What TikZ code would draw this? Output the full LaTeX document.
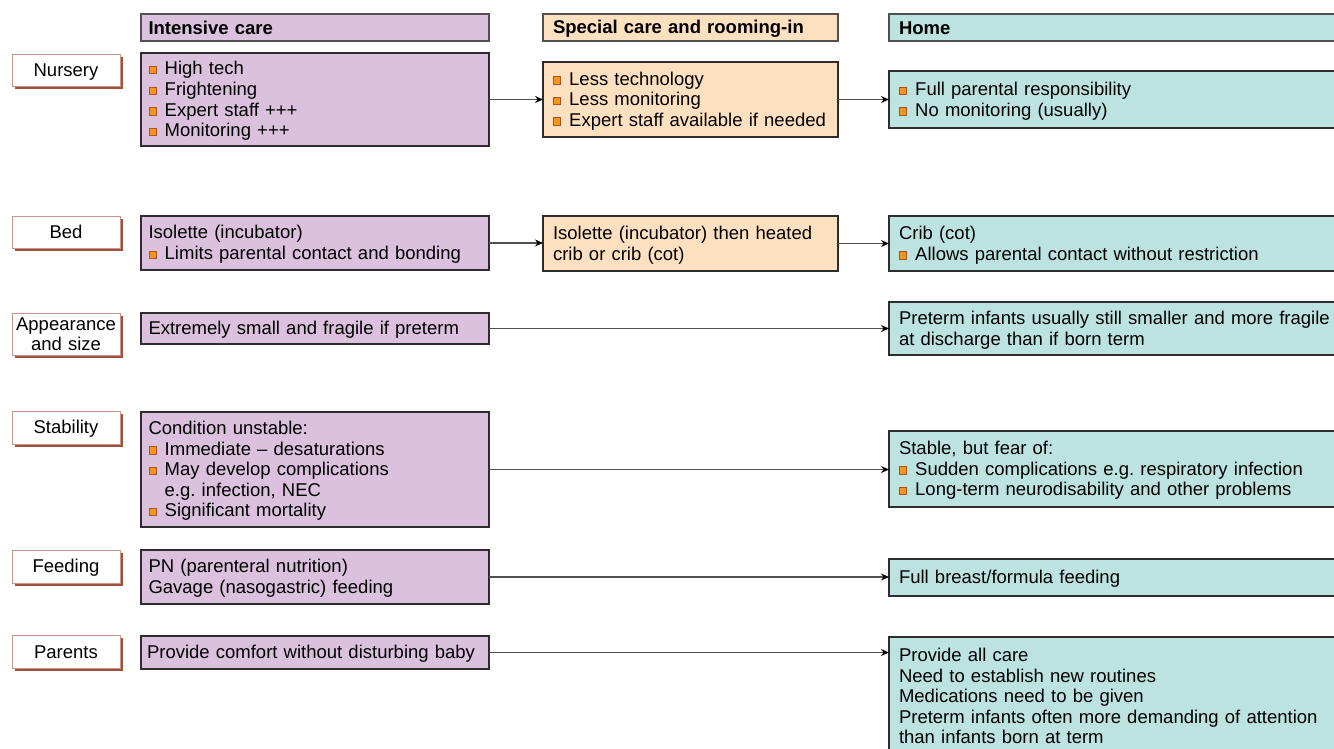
\documentclass[tikz,border=0pt]{standalone}
\usepackage{fontspec}
\setmainfont{Liberation Sans}
\usetikzlibrary{arrows.meta,shadows}
\frenchspacing
\definecolor{icfill}{RGB}{219,193,221}
\definecolor{scfill}{RGB}{253,224,191}
\definecolor{hmfill}{RGB}{189,227,224}
\definecolor{bordc}{RGB}{45,45,45}
\definecolor{hdbord}{RGB}{80,80,80}
\definecolor{labbord}{RGB}{200,150,135}
\definecolor{shadc}{RGB}{160,80,58}
\definecolor{bulfill}{RGB}{247,148,29}
\definecolor{bulbrd}{RGB}{170,85,40}
\definecolor{linec}{RGB}{80,80,80}
\newcommand\bul{{\setlength\fboxsep{0pt}\setlength\fboxrule{0.8pt}\raisebox{1.5pt}{\fcolorbox{bulbrd}{bulfill}{\rule{0pt}{6.6pt}\rule{6.6pt}{0pt}}}}\hspace{8pt}}
\newcommand\indt{\hspace*{16.2pt}}
\newcommand\bodyfont{\fontsize{18.5pt}{20.6pt}\selectfont}
\newcommand\mystrut{\rule[-3pt]{0pt}{19.25pt}}
\begin{document}
\begin{tikzpicture}[x=1pt,y=-1pt,
  base/.style={anchor=north west, outer sep=0pt, inner ysep=0pt, align=left,
    font=\bodyfont, text=black, line width=1.1pt,
    execute at begin node=\mystrut, execute at end node=\mystrut},
  icb/.style={base, draw=bordc, fill=icfill, minimum width=348pt, text width=333pt, inner xsep=7.5pt},
  scb/.style={base, draw=bordc, fill=scfill, minimum width=295pt, text width=275pt, inner xsep=10pt},
  hmb/.style={base, draw=bordc, fill=hmfill, minimum width=460pt, text width=440pt, inner xsep=10pt},
  hdr/.style={draw=hdbord, font=\bodyfont\bfseries, minimum height=27pt},
  lab/.style={base, draw=labbord, line width=0.8pt, fill=white, minimum width=108pt,
    text width=106pt, align=center, inner xsep=1pt,
    drop shadow={shadow xshift=3pt, shadow yshift=-3pt, fill=shadc, opacity=1}},
  conn/.style={draw=linec, line width=1.2pt, -{Stealth[length=8pt,width=7pt,black]}}
]
\useasboundingbox (0,0) rectangle (1334,748);
\clip (0,0) rectangle (1334,748);

% headers
\node[icb, hdr] (h1) at (141,14) {Intensive care};
\node[scb, hdr] (h2) at (543,14) {Special care and rooming-in};
\node[hmb, hdr] (h3) at (889,14) {Home};

% row 1: Nursery
\node[lab, minimum height=32pt] (l1) at (12,54) {Nursery};
\node[icb, minimum height=93pt] (a1) at (141,53) {\bul High tech\\\bul Frightening\\\bul Expert staff +++\\\bul Monitoring +++};
\node[scb, minimum height=75pt] (b1) at (543,62) {\bul Less technology\\\bul Less monitoring\\\bul Expert staff available if needed};
\node[hmb, minimum height=57pt] (c1) at (889,71) {\bul Full parental responsibility\\\bul No monitoring (usually)};

% row 2: Bed
\node[lab, minimum height=32pt] (l2) at (12,216) {Bed};
\node[icb, minimum height=54pt] (a2) at (141,216) {Isolette (incubator)\\\bul Limits parental contact and bonding};
\node[scb, minimum height=55pt] (b2) at (543,216) {Isolette (incubator) then heated\\crib or crib (cot)};
\node[hmb, minimum height=55pt] (c2) at (889,216) {Crib (cot)\\\bul Allows parental contact without restriction};

% row 3: Appearance
\node[lab, minimum height=42pt] (l3) at (12,313) {Appearance\\and size};
\node[icb, minimum height=31pt] (a3) at (141,313) {Extremely small and fragile if preterm};
\node[hmb, minimum height=53pt] (c3) at (889,302) {Preterm infants usually still smaller and more fragile\\at discharge than if born term};

% row 4: Stability
\node[lab, minimum height=33pt] (l4) at (12,411) {Stability};
\node[icb, minimum height=115pt] (a4) at (141,412) {Condition unstable:\\\bul Immediate -- desaturations\\\bul May develop complications\\\indt e.g. infection, NEC\\\bul Significant mortality};
\node[hmb, minimum height=76pt] (c4) at (889,431) {Stable, but fear of:\\\bul Sudden complications e.g. respiratory infection\\\bul Long-term neurodisability and other problems};

% row 5: Feeding
\node[lab, minimum height=33pt] (l5) at (12,550) {Feeding};
\node[icb, minimum height=54pt] (a5) at (141,550) {PN (parenteral nutrition)\\Gavage (nasogastric) feeding};
\node[hmb, minimum height=37pt] (c5) at (889,559) {Full breast/formula feeding};

% row 6: Parents
\node[lab, minimum height=33pt] (l6) at (12,635) {Parents};
\node[icb, minimum height=33pt, inner xsep=6pt, text width=336pt] (a6) at (141,636) {Provide comfort without disturbing baby};
\node[hmb, minimum height=118pt] (c6) at (889,637) {Provide all care\\Need to establish new routines\\Medications need to be given\\Preterm infants often more demanding of attention\\than infants born at term};

% connectors
\draw[conn] (a1.east) -- (a1.east -| b1.west);
\draw[conn] (b1.east) -- (b1.east -| c1.west);
\draw[conn] (a2.east) -- (a2.east -| b2.west);
\draw[conn] (b2.east) -- (b2.east -| c2.west);
\draw[conn] (a3.east) -- (a3.east -| c3.west);
\draw[conn] (a4.east) -- (a4.east -| c4.west);
\draw[conn] (a5.east) -- (a5.east -| c5.west);
\draw[conn] (a6.east) -- (a6.east -| c6.west);
\end{tikzpicture}
\end{document}
